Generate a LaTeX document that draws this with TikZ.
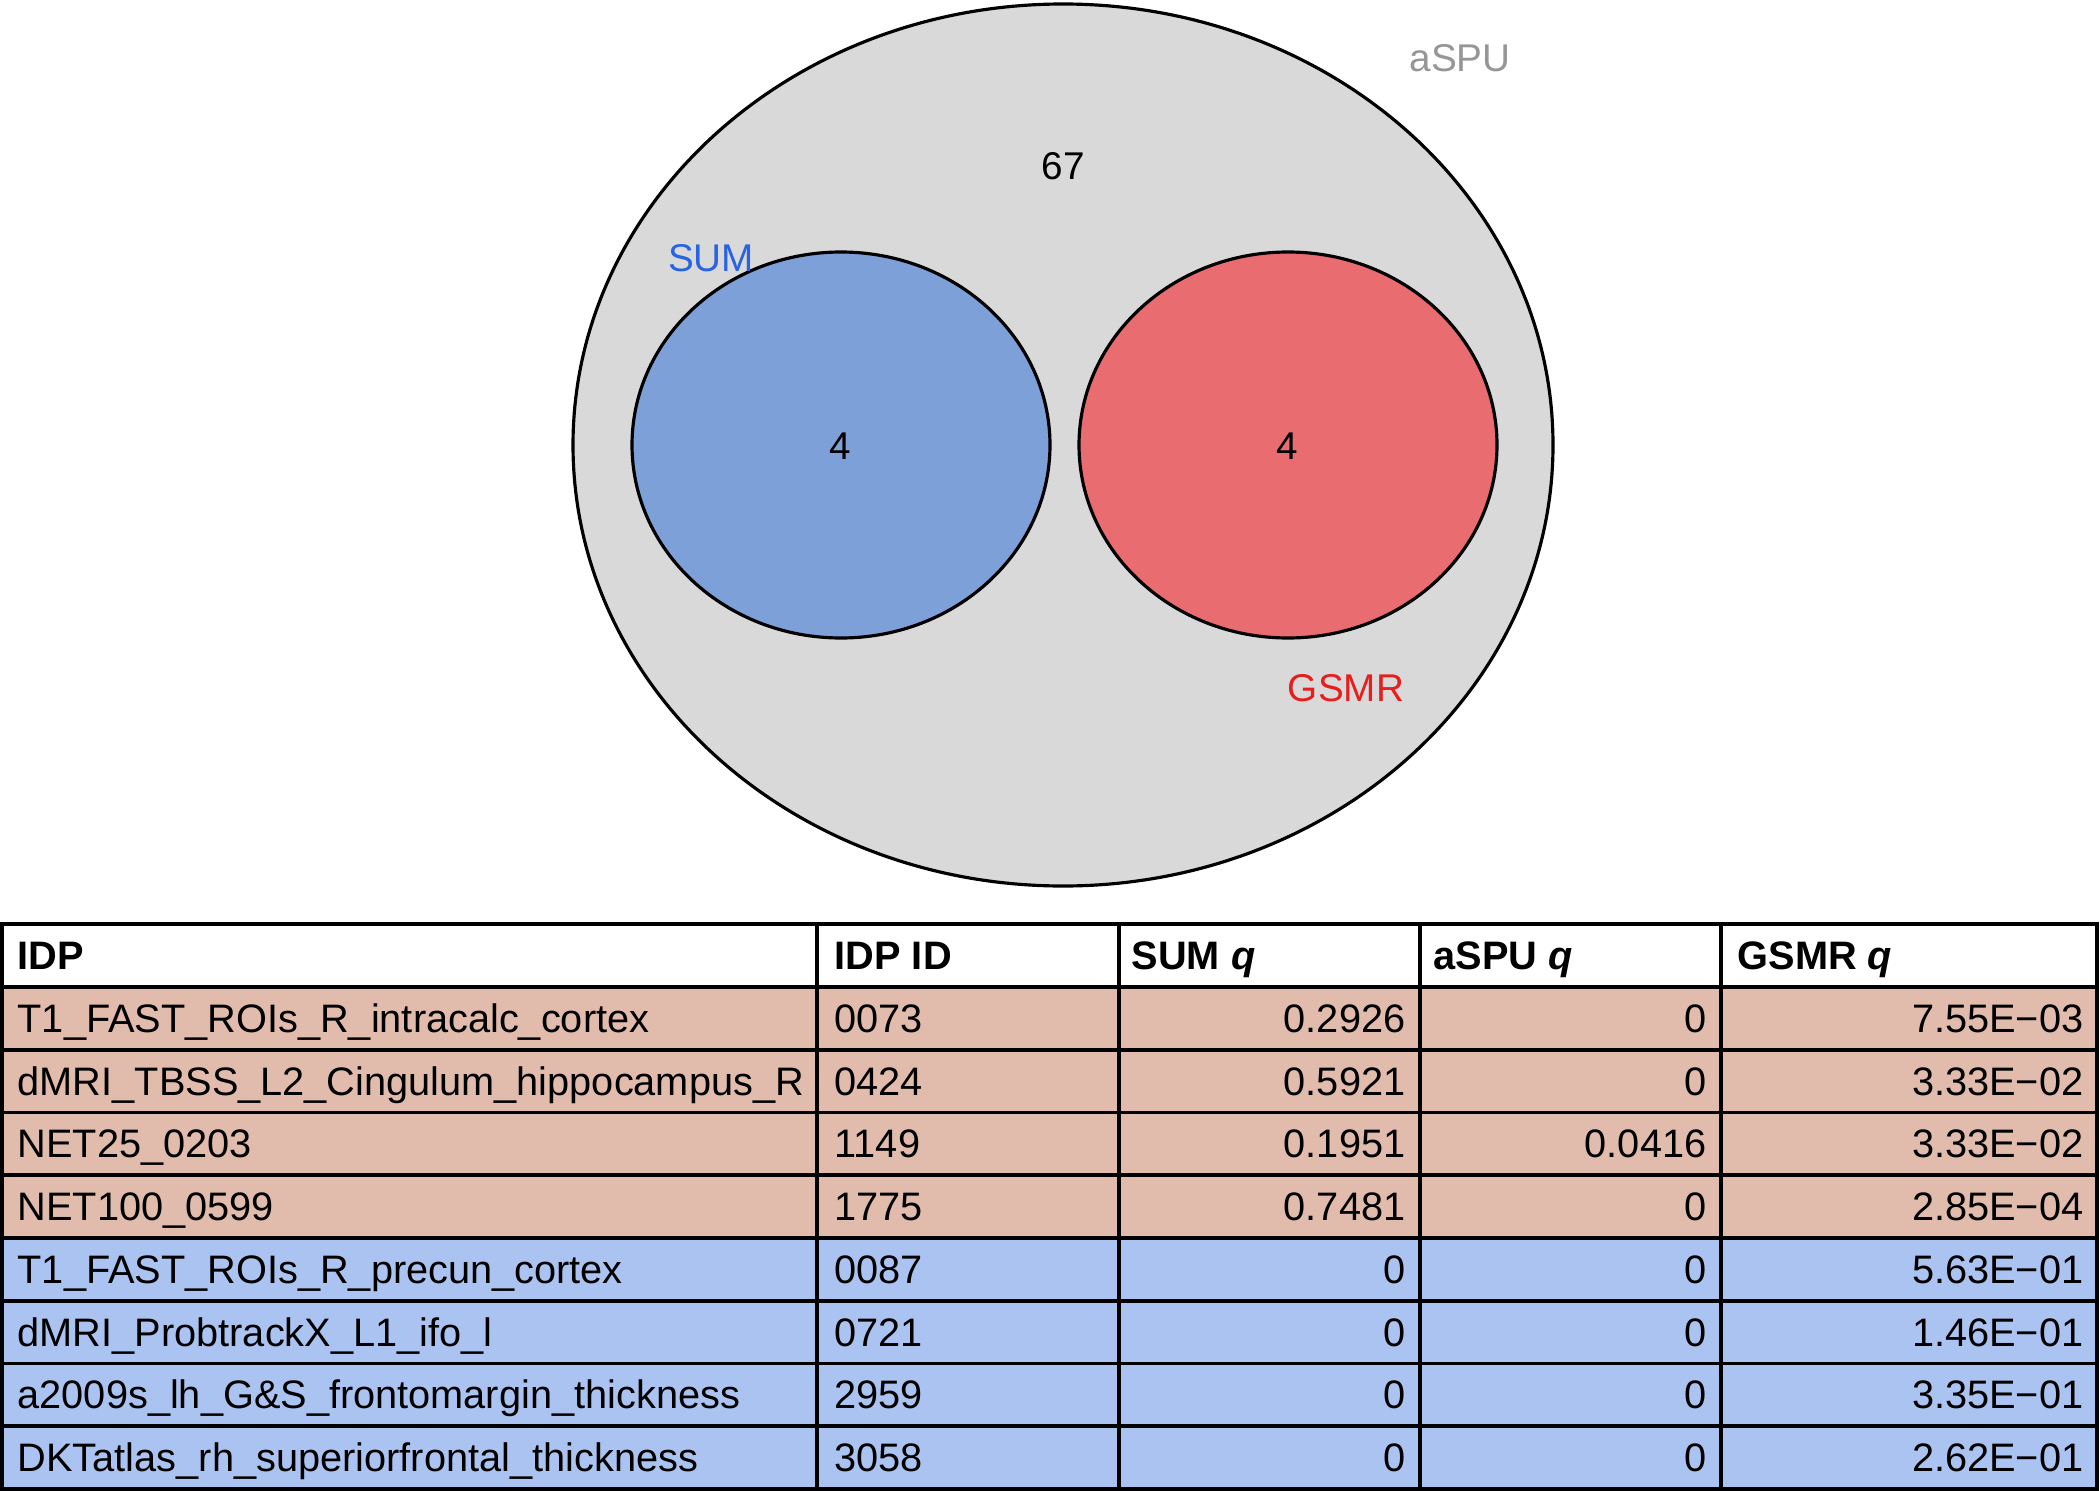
\documentclass[tikz,border=0pt]{standalone}
\usepackage{fontspec}
\setmainfont{Liberation Sans}
\usetikzlibrary{positioning}

\definecolor{aspufill}{RGB}{217,217,217}
\definecolor{sumfill}{RGB}{125,160,216}
\definecolor{gsmrfill}{RGB}{233,108,112}
\definecolor{sumlabel}{RGB}{40,100,225}
\definecolor{aspulabel}{RGB}{150,150,150}
\definecolor{gsmrlabel}{RGB}{230,30,30}
\definecolor{rowpink}{RGB}{225,187,171}
\definecolor{rowblue}{RGB}{170,195,240}

\tikzset{
  vtext/.style={font=\fontsize{11}{13}\selectfont, inner sep=0pt},
  ctext/.style={font=\fontsize{11.3}{13}\selectfont, inner sep=0pt, anchor=base west},
  ntext/.style={font=\fontsize{11.3}{13}\selectfont, inner sep=0pt, anchor=base east},
  htext/.style={font=\bfseries\fontsize{11.3}{13}\selectfont, inner sep=0pt, anchor=base west},
}

\begin{document}
\begin{tikzpicture}[x=0.01cm, y=-0.01cm]

\useasboundingbox (0,0) rectangle (2100,1491);

\begin{scope}[line width=0.9pt]
\filldraw [fill=aspufill] (1063,445) ellipse (490 and 441);
\filldraw [fill=sumfill]  (841,445)  ellipse (209 and 193);
\filldraw [fill=gsmrfill] (1288,445) ellipse (209 and 193);
\end{scope}

\node [vtext, aspulabel] (aspu) at (1460,58)  {aSPU};
\node [vtext]            (n67)  at (1063,166) {67};
\node [vtext, sumlabel]  (sum)  at (711,258)  {SUM};
\node [vtext]            (n4a)  at (840,446)  {4};
\node [vtext]            (n4b)  at (1287,446) {4};
\node [vtext, gsmrlabel] (gsmr) at (1346,688) {GSMR};

\foreach \i/\idp/\id/\sq/\aq/\gq/\rc in {
  1/T1\_FAST\_ROIs\_R\_intracalc\_cortex/0073/0.2926/0/7.55E−03/rowpink,
  2/dMRI\_TBSS\_L2\_Cingulum\_hippocampus\_R/0424/0.5921/0/3.33E−02/rowpink,
  3/NET25\_0203/1149/0.1951/0.0416/3.33E−02/rowpink,
  4/NET100\_0599/1775/0.7481/0/2.85E−04/rowpink,
  5/T1\_FAST\_ROIs\_R\_precun\_cortex/0087/0/0/5.63E−01/rowblue,
  6/dMRI\_ProbtrackX\_L1\_ifo\_l/0721/0/0/1.46E−01/rowblue,
  7/a2009s\_lh\_G\&S\_frontomargin\_thickness/2959/0/0/3.35E−01/rowblue,
  8/DKTatlas\_rh\_superiorfrontal\_thickness/3058/0/0/2.62E−01/rowblue}
{
  \fill [\rc] (0,{987+(\i-1)*62.75}) rectangle (2098,{987+\i*62.75});
  \node [ctext] (idp\i) at (17,{987+(\i-0.5)*62.75+14})   {\idp};
  \node [ctext] (id\i)  at (834,{987+(\i-0.5)*62.75+14})  {\id};
  \node [ntext] (sq\i)  at (1406,{987+(\i-0.5)*62.75+14}) {\sq};
  \node [ntext] (aq\i)  at (1707,{987+(\i-0.5)*62.75+14}) {\aq};
  \node [ntext] (gq\i)  at (2084,{987+(\i-0.5)*62.75+14}) {\gq};
}

\node [htext] (hidp) at (17,969)   {IDP};
\node [htext] (hid)  at (834,969)  {IDP ID};
\node [htext] (hsq)  at (1131,969) {SUM \textit{q}};
\node [htext] (haq)  at (1433,969) {aSPU \textit{q}};
\node [htext] (hgq)  at (1737,969) {GSMR \textit{q}};

\begin{scope}[line width=1.1pt]
\draw (2,924) rectangle (2097,1489);
\foreach \i in {0,...,7}
  \draw (2,{987+\i*62.75}) -- (2097,{987+\i*62.75});
\foreach \x in {817,1119,1420,1721}
  \draw (\x,924) -- (\x,1489);
\end{scope}

\end{tikzpicture}
\end{document}
